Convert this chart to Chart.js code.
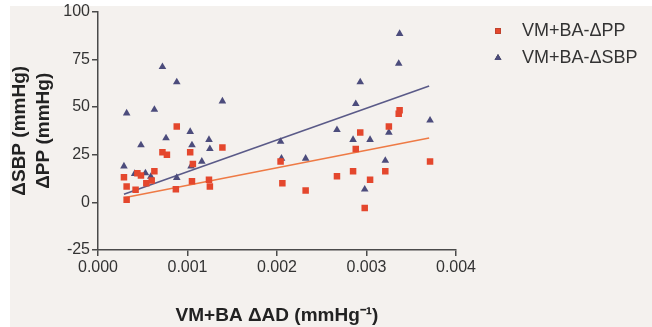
<!DOCTYPE html>
<html>
<head>
<meta charset="utf-8">
<script src="https://cdn.jsdelivr.net/npm/chart.js@4.4.1/dist/chart.umd.min.js"></script>
<style>
html,body{margin:0;padding:0;background:#ffffff;}
#wrap{width:652px;height:327px;}
</style>
</head>
<body>
<div id="wrap"><canvas id="c" width="652" height="327"></canvas></div>
<script>
// ---- data ----
const ppX = [0.00029,0.00032,0.00032,0.00042,0.00044,0.00048,0.00054,0.00060,0.00063,0.00072,0.00077,0.00087,0.00088,0.00103,0.00105,0.00106,0.00124,0.00125,0.00139,0.00204,0.00206,0.00232,0.00267,0.00285,0.00288,0.00293,0.00298,0.00304,0.00321,0.00325,0.00336,0.00337,0.00371];
const ppY = [13.2,8.3,1.4,6.6,15.3,14,10,11.5,16.3,26.2,25,6.8,39.7,26.2,11.1,20.1,11.8,8.3,28.8,21.4,10,6.2,13.7,16.3,28,36.6,-3,11.8,16.3,39.7,46.5,48.3,21.4];
const sbpX = [0.00029,0.00032,0.00041,0.00048,0.00053,0.00059,0.00063,0.00072,0.00076,0.00088,0.00088,0.00103,0.00104,0.00105,0.00116,0.00124,0.00125,0.00139,0.00204,0.00205,0.00232,0.00267,0.00285,0.00288,0.00293,0.00298,0.00304,0.00321,0.00325,0.00336,0.00337,0.00371];
const sbpY = [18.9,46.7,15,30,15.3,13.5,48.6,71,33.7,63,12.9,37,18.9,30,21.4,32.8,28,53,31.8,23,23,38,32.8,51.6,63,6.8,32.8,21.9,36.6,72.7,88.4,43];
const fitX = [0.00029, 0.0037];
const sbpFitY = [4.2, 61];
const ppFitY = [2.4, 33.7];
const seriesLabels = ['VM+BA-\u0394PP', 'VM+BA-\u0394SBP'];
const xTicks = [0, 0.001, 0.002, 0.003, 0.004];
const yTicks = [-25, 0, 25, 50, 75, 100];
const xTitle = 'VM+BA \u0394AD (mmHg\u207B\u00B9)';
const yTitle = ['\u0394SBP (mmHg)', '\u0394PP (mmHg)'];

const RED = '#e4472d';
const BLUE = '#4c4c7c';
const AXIS = '#4a4a4a';
const pts = (xs, ys) => xs.map((x, i) => ({x: x, y: ys[i]}));

const bgPlugin = {
  id: 'bg',
  beforeDraw(chart) {
    const ctx = chart.ctx;
    ctx.save();
    ctx.fillStyle = '#f4f1ee';
    ctx.fillRect(10, 6, chart.width - 10, chart.height - 6);
    ctx.restore();
  }
};

const legendPlugin = {
  id: 'customLegend',
  afterDraw(chart) {
    const ctx = chart.ctx;
    const items = [0, 1];
    items.forEach((di, k) => {
      const ds = chart.data.datasets[di];
      const y = 31 + k * 27;
      ctx.save();
      Chart.helpers.drawPoint(ctx, {
        pointStyle: ds.pointStyle, radius: 4, rotation: 0, borderWidth: 0
      }, 498, y);
      ctx.fillStyle = ds.backgroundColor;
      ctx.fill();
      ctx.restore();
      ctx.save();
      ctx.font = '18px "Liberation Sans", Arial, sans-serif';
      ctx.fillStyle = '#333333';
      ctx.textBaseline = 'middle';
      ctx.textAlign = 'left';
      ctx.fillText(ds.label, 522, y);
      ctx.restore();
    });
  }
};

new Chart(document.getElementById('c'), {
  type: 'scatter',
  data: {
    datasets: [
      {label: seriesLabels[0], data: pts(ppX, ppY), pointStyle: 'rect', pointRadius: 4.6,
       backgroundColor: RED, borderColor: RED, borderWidth: 0},
      {label: seriesLabels[1], data: pts(sbpX, sbpY), pointStyle: 'triangle', pointRadius: 4.4,
       backgroundColor: BLUE, borderColor: BLUE, borderWidth: 0},
      {label: 'fitSBP', data: pts(fitX, sbpFitY), showLine: true, pointRadius: 0,
       borderColor: '#5a5a88', borderWidth: 1.6, fill: false},
      {label: 'fitPP', data: pts(fitX, ppFitY), showLine: true, pointRadius: 0,
       borderColor: '#ee7a45', borderWidth: 1.6, fill: false}
    ]
  },
  options: {
    responsive: false,
    animation: false,
    layout: {padding: {left: 0, top: 10, right: 196, bottom: 0}},
    plugins: {legend: {display: false}, tooltip: {enabled: false}},
    scales: {
      x: {
        type: 'linear', min: 0, max: 0.004,
        afterBuildTicks(s) { s.ticks = xTicks.map(v => ({value: v})); },
        afterFit(s) { s.height = 77; },
        ticks: {callback: v => v.toFixed(3), color: '#333', font: {family: '"Liberation Sans", Arial', size: 16}, padding: 2},
        grid: {drawOnChartArea: false, drawTicks: true, tickLength: 6, color: AXIS, lineWidth: 1.5},
        border: {display: true, color: AXIS, width: 1.5},
        title: {display: true, text: xTitle, color: '#222', font: {family: '"Liberation Sans", Arial', size: 19, weight: 'bold'}, padding: {top: 16, bottom: 0}}
      },
      y: {
        min: -25, max: 100,
        afterBuildTicks(s) { s.ticks = yTicks.map(v => ({value: v})); },
        afterFit(s) { s.width = 98; },
        ticks: {color: '#333', font: {family: '"Liberation Sans", Arial', size: 16}, padding: 2},
        grid: {drawOnChartArea: false, drawTicks: true, tickLength: 6, color: AXIS, lineWidth: 1.5},
        border: {display: true, color: AXIS, width: 1.5},
        title: {display: true, text: yTitle, color: '#222', font: {family: '"Liberation Sans", Arial', size: 19, weight: 'bold', lineHeight: 1.26}, padding: {top: 8, bottom: 0}}
      }
    }
  },
  plugins: [bgPlugin, legendPlugin]
});
</script>
</body>
</html>
